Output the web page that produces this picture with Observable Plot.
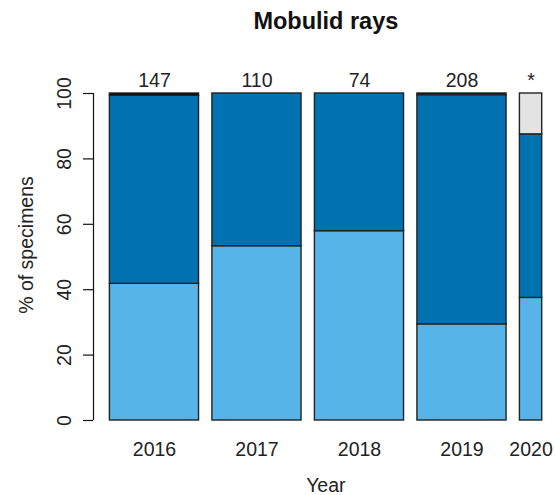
<!DOCTYPE html>
<html>
<head>
<meta charset="utf-8">
<script src="https://cdn.jsdelivr.net/npm/d3@7"></script>
<script src="https://cdn.jsdelivr.net/npm/@observablehq/plot@0.6"></script>
<style>
  html, body { margin: 0; padding: 0; background: #fff; }
  svg { font-family: "Liberation Sans", Arial, sans-serif; }
</style>
</head>
<body>
<div id="chart"></div>
<script>
// ---- data ----
const years = ["2016", "2017", "2018", "2019", "2020"];
const countLabels = ["147", "110", "74", "208", "*"];
const barWidths = [1, 1, 1, 1, 0.25];
const lightPct = [41.8, 53.3, 57.9, 29.4, 37.5];
const darkPct = [57.5, 46.7, 42.1, 70.1, 50.0];
const blackPct = [0.7, 0, 0, 0.5, 0];
const greyPct = [0, 0, 0, 0, 12.5];
const yTicks = [0, 20, 40, 60, 80, 100];

const categories = [
  {name: "light", values: lightPct, color: "#56B4E9"},
  {name: "dark", values: darkPct, color: "#0072B2"},
  {name: "black", values: blackPct, color: "#000000"},
  {name: "grey", values: greyPct, color: "#E3E3E3"}
];

// bar layout (R barplot style: space between bars)
const space = 0.15;
const bars = [];
let cursor = 0;
years.forEach((yr, i) => {
  const x1 = cursor + space;
  const x2 = x1 + barWidths[i];
  cursor = x2;
  bars.push({year: yr, count: countLabels[i], x1, x2, xc: (x1 + x2) / 2});
});

const segments = [];
bars.forEach((b, i) => {
  let acc = 0;
  categories.forEach(c => {
    const v = c.values[i];
    if (v > 0) {
      segments.push({year: b.year, cat: c.name, color: c.color, x1: b.x1, x2: b.x2, y1: acc, y2: acc + v});
      acc += v;
    }
  });
});

const xMin = -0.034;
const xMax = cursor;

const chart = Plot.plot({
  width: 555,
  height: 495,
  marginLeft: 93,
  marginRight: 13.3,
  marginTop: 93,
  marginBottom: 75,
  style: {fontFamily: '"Liberation Sans", Arial, sans-serif', background: "#fff"},
  x: {domain: [xMin, xMax], axis: null},
  y: {domain: [0, 100], axis: null},
  marks: [
    Plot.rect(segments, {
      x1: "x1", x2: "x2", y1: "y1", y2: "y2",
      fill: d => d.color,
      stroke: "#222",
      strokeWidth: 1.4
    }),
    // y axis line
    Plot.ruleX([xMin], {y1: 0, y2: 100, stroke: "#111", strokeWidth: 1.2}),
    // y ticks
    Plot.axisY({ticks: yTicks, tickSize: 10, tickFormat: () => "", stroke: "#111", strokeWidth: 1.2, label: null}),
    // y tick labels (rotated)
    Plot.text(yTicks, {
      y: d => d, text: d => String(d), frameAnchor: "left",
      rotate: -90, dx: -29, textAnchor: "middle", lineAnchor: "middle",
      fontSize: 19.5, fill: "#222"
    }),
    // year labels
    Plot.text(bars, {
      x: "xc", y: 0, text: "year", dy: 29, lineAnchor: "middle",
      fontSize: 19.5, fill: "#222"
    }),
    // count labels
    Plot.text(bars, {
      x: "xc", y: 100, text: "count", dy: -13, lineAnchor: "middle",
      fontSize: 19.5, fill: "#222"
    }),
    // axis titles
    Plot.text(["% of specimens"], {
      frameAnchor: "left", dx: -67, dy: -12, rotate: -90,
      textAnchor: "middle", lineAnchor: "middle", fontSize: 19.5, fill: "#222"
    }),
    Plot.text(["Year"], {
      frameAnchor: "bottom", dx: 8, dy: 65, lineAnchor: "middle",
      fontSize: 19.5, fill: "#222"
    }),
    Plot.text(["Mobulid rays"], {
      frameAnchor: "top", dx: 8, dy: -72, lineAnchor: "middle",
      fontSize: 23.5, fontWeight: "bold", fill: "#111"
    })
  ]
});

document.getElementById("chart").appendChild(chart);
</script>
</body>
</html>
